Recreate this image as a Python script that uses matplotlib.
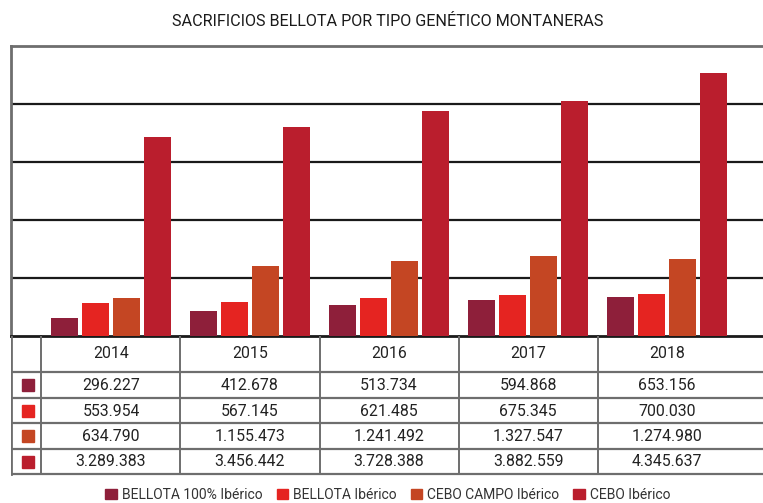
import matplotlib
matplotlib.use("Agg")
import matplotlib.pyplot as plt
from matplotlib.patches import Rectangle
import numpy as np

years = ["2014", "2015", "2016", "2017", "2018"]
series_names = ["BELLOTA 100% Ibérico", "BELLOTA Ibérico", "CEBO CAMPO Ibérico", "CEBO Ibérico"]
bellota100 = [296227, 412678, 513734, 594868, 653156]
bellota = [553954, 567145, 621485, 675345, 700030]
cebo_campo = [634790, 1155473, 1241492, 1327547, 1274980]
cebo = [3289383, 3456442, 3728388, 3882559, 4345637]
colors = ["#8E1F3A", "#E52421", "#C44623", "#BA1E2D"]
title = "SACRIFICIOS BELLOTA POR TIPO GENÉTICO MONTANERAS"

series = [bellota100, bellota, cebo_campo, cebo]

W, H = 763, 503
fig = plt.figure(figsize=(W / 100, H / 100), dpi=100)

def fx(px):
    return px / W

def fy(py):
    return 1 - py / H

tfont = ["Roboto", "DejaVu Sans"]

# chart axes: x from 11 to 763 px, y from 46 to 336 px
step_px = 139.0
x0_px = 111.0
left_px, right_px = 11, 763
ax = fig.add_axes([fx(left_px), fy(336), fx(right_px - left_px), (336 - 46) / H])
xlim = ((left_px - x0_px) / step_px, (right_px - x0_px) / step_px)
ax.set_xlim(*xlim)
ymax = 4.8e6
ax.set_ylim(0, ymax)

x = np.arange(len(years))
bstep = 31 / step_px
bwidth = 27 / step_px
for i, (vals, c) in enumerate(zip(series, colors)):
    ax.bar(x + (i - 1.5) * bstep, vals, width=bwidth, color=c, zorder=3, linewidth=0)

for yv in np.linspace(0, ymax, 6)[1:-1]:
    ax.axhline(yv, color="#1a1a1a", lw=1.6, zorder=1)
ax.set_xticks([])
ax.set_yticks([])
ax.spines["right"].set_visible(False)
ax.spines["top"].set_color("#6e6e6e")
ax.spines["top"].set_linewidth(2)
ax.spines["left"].set_color("#6e6e6e")
ax.spines["left"].set_linewidth(2)
ax.spines["bottom"].set_color("#1a1a1a")
ax.spines["bottom"].set_linewidth(2)

# table axes
tax = fig.add_axes([fx(left_px), fy(476), fx(right_px - left_px), (476 - 336) / H])
tax.set_xlim(*xlim)
tax.set_ylim(476, 336)
tax.axis("off")
line_c = "#6e6e6e"
row_edges = [336, 372, 398, 423, 449, 474]
for ry in row_edges[1:]:
    tax.plot(xlim, [ry, ry], color=line_c, lw=1.6, solid_capstyle="butt")
tax.plot([xlim[0], xlim[0]], [336, 474], color=line_c, lw=2)
for b in np.arange(len(years)) - 0.5:
    tax.plot([b, b], [336, 474], color=line_c, lw=1.4)
    ax.plot([b, b], [0, -0.012 * ymax], color=line_c, lw=1.4, clip_on=False)

row_centers = [(row_edges[k] + row_edges[k + 1]) / 2 for k in range(5)]
for j, yr in enumerate(years):
    tax.text(j, row_centers[0], yr, ha="center", va="center", fontsize=11.4,
             color="#222222", family=tfont)
for i, (vals, c) in enumerate(zip(series, colors)):
    yc = row_centers[i + 1]
    for j, v in enumerate(vals):
        tax.text(j, yc + 0.5, f"{v:,}".replace(",", "."), ha="center", va="center",
                 fontsize=11.4, color="#222222", family=tfont)
    sq = 12
    fig.patches.append(Rectangle((fx(22), fy(yc + sq / 2)), fx(sq), sq / H,
                                 transform=fig.transFigure, color=c, figure=fig))

# title
fig.text(fx(388), fy(21), title, ha="center", va="center", fontsize=11.6,
         color="#1a1a1a", family=tfont)

# legend
handles = [Rectangle((0, 0), 1, 1, color=c) for c in colors]
leg = fig.legend(handles, series_names, loc="center", bbox_to_anchor=(fx(388), fy(495)),
                 ncol=4, frameon=False, handlelength=0.8, handleheight=0.8,
                 handletextpad=0.4, columnspacing=1.0, prop={"family": tfont, "size": 10})
for t in leg.get_texts():
    t.set_color("#333333")

fig.savefig("out.png", dpi=100)
